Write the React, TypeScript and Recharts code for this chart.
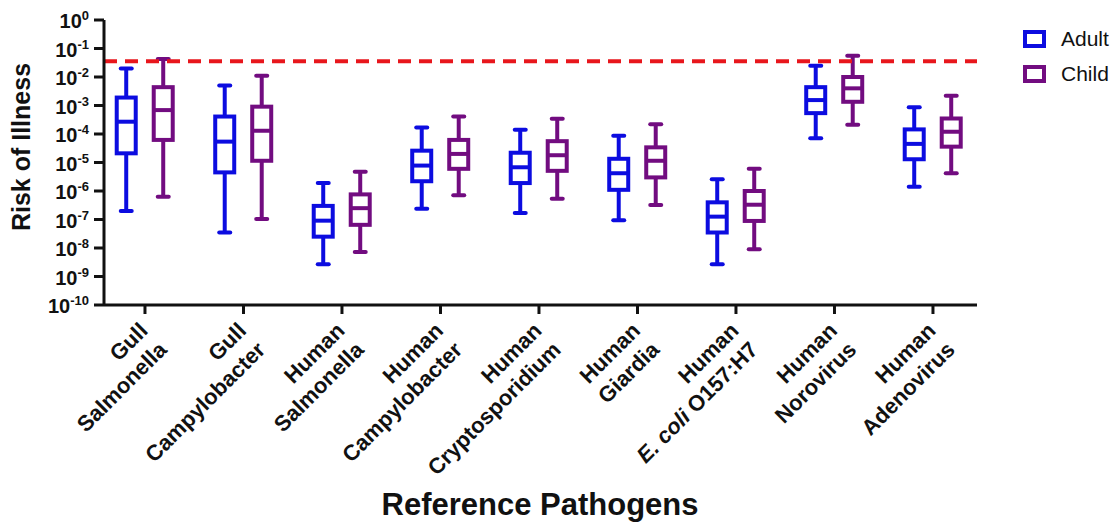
import { ComposedChart, Bar, XAxis, YAxis, ReferenceLine, Legend, Label } from 'recharts';

const FONT = '"Liberation Sans", Arial, Helvetica, sans-serif';
const ADULT_COLOR = '#0c0ce0';
const CHILD_COLOR = '#720c80';
const THRESHOLD = 0.036;

// x categories (two lines per label)
const HOSTS = ['Gull', 'Gull', 'Human', 'Human', 'Human', 'Human', 'Human', 'Human', 'Human'];
const PATHOGENS = [
  'Salmonella',
  'Campylobacter',
  'Salmonella',
  'Campylobacter',
  'Cryptosporidium',
  'Giardia',
  'E. coli O157:H7',
  'Norovirus',
  'Adenovirus',
];

// adult risk distribution (min, q1, median, q3, max)
const ADULT_MIN = [2.0e-7, 3.5e-8, 2.7e-9, 2.4e-7, 1.7e-7, 9.5e-8, 2.7e-9, 7.1e-5, 1.4e-6];
const ADULT_Q1 = [2.1e-5, 4.5e-6, 2.5e-8, 2.2e-6, 1.9e-6, 1.1e-6, 3.5e-8, 5.4e-4, 1.3e-5];
const ADULT_MED = [2.7e-4, 5.4e-5, 9.1e-8, 7.8e-6, 6.8e-6, 4.2e-6, 1.26e-7, 1.55e-3, 4.5e-5];
const ADULT_Q3 = [1.9e-3, 4.1e-4, 3.0e-7, 2.6e-5, 2.2e-5, 1.35e-5, 4.0e-7, 4.4e-3, 1.45e-4];
const ADULT_MAX = [2.0e-2, 5.0e-3, 1.9e-6, 1.7e-4, 1.4e-4, 8.7e-5, 2.6e-6, 2.5e-2, 8.7e-4];

// child risk distribution
const CHILD_MIN = [6.3e-7, 1.05e-7, 7.2e-9, 7.1e-7, 5.4e-7, 3.2e-7, 9.1e-9, 2.1e-4, 4.2e-6];
const CHILD_Q1 = [6.2e-5, 1.15e-5, 6.5e-8, 6.0e-6, 5.1e-6, 3.0e-6, 8.9e-8, 1.35e-3, 3.6e-5];
const CHILD_MED = [6.9e-4, 1.3e-4, 2.5e-7, 2.0e-5, 1.8e-5, 1.15e-5, 3.3e-7, 4.0e-3, 1.2e-4];
const CHILD_Q3 = [4.4e-3, 9.1e-4, 7.6e-7, 6.2e-5, 5.6e-5, 3.4e-5, 1.0e-6, 1.0e-2, 3.5e-4];
const CHILD_MAX = [4.3e-2, 1.1e-2, 4.7e-6, 4.1e-4, 3.4e-4, 2.2e-4, 6.0e-6, 5.6e-2, 2.2e-3];

const Y_TICKS = [1, 1e-1, 1e-2, 1e-3, 1e-4, 1e-5, 1e-6, 1e-7, 1e-8, 1e-9, 1e-10];
const X_TICKS = HOSTS.map((_, i) => i + 1);

const data = HOSTS.map((host, i) => ({
  pos: i + 1,
  host,
  adult: [ADULT_MIN[i], ADULT_MAX[i]],
  child: [CHILD_MIN[i], CHILD_MAX[i]],
}));

function makeBox(color: string, mins: number[], q1s: number[], meds: number[], q3s: number[], maxs: number[]) {
  return (props: any) => {
    const { x, y, width, height, index } = props;
    const top = Math.min(y, y + height);
    const bot = Math.max(y, y + height);
    const lmax = Math.log10(maxs[index]);
    const lmin = Math.log10(mins[index]);
    const toY = (v: number) => top + ((lmax - Math.log10(v)) / (lmax - lmin)) * (bot - top);
    const cx = x + width / 2;
    const half = width / 2 - 2;
    const yq3 = toY(q3s[index]);
    const yq1 = toY(q1s[index]);
    const ym = toY(meds[index]);
    return (
      <g>
        <line x1={cx} x2={cx} y1={top} y2={bot} stroke={color} strokeWidth={4} />
        <line x1={cx - 5.5} x2={cx + 5.5} y1={top} y2={top} stroke={color} strokeWidth={4} strokeLinecap="round" />
        <line x1={cx - 5.5} x2={cx + 5.5} y1={bot} y2={bot} stroke={color} strokeWidth={4} strokeLinecap="round" />
        <rect x={cx - half} y={yq3} width={half * 2} height={yq1 - yq3} fill="#fff" stroke={color} strokeWidth={4} />
        <line x1={cx - half} x2={cx + half} y1={ym} y2={ym} stroke={color} strokeWidth={4} />
      </g>
    );
  };
}

const AdultBox = makeBox(ADULT_COLOR, ADULT_MIN, ADULT_Q1, ADULT_MED, ADULT_Q3, ADULT_MAX);
const ChildBox = makeBox(CHILD_COLOR, CHILD_MIN, CHILD_Q1, CHILD_MED, CHILD_Q3, CHILD_MAX);

const YTick = (props: any) => {
  const { x, y, payload } = props;
  const exp = Math.round(Math.log10(payload.value));
  return (
    <text x={x - 3} y={y + 8} textAnchor="end" fontFamily={FONT} fontWeight="bold" fontSize={20} fill="#111">
      10
      <tspan dy={-8} fontSize={13}>
        {exp}
      </tspan>
    </text>
  );
};

const XTick = (props: any) => {
  const { x, y, payload } = props;
  const i = Math.round(payload.value) - 1;
  const path = PATHOGENS[i];
  const second = path.startsWith('E. coli') ? (
    <tspan x={0} dy={27}>
      <tspan fontStyle="italic">E. coli</tspan>
      {path.slice(7)}
    </tspan>
  ) : (
    <tspan x={0} dy={27}>
      {path}
    </tspan>
  );
  return (
    <g transform={`translate(${x + 4},${y + 16})`}>
      <text transform="rotate(-45)" textAnchor="end" fontFamily={FONT} fontWeight="bold" fontSize={22} fill="#111">
        <tspan x={0} dy={0}>
          {HOSTS[i]}
        </tspan>
        {second}
      </text>
    </g>
  );
};

const YTitle = () => (
  <text
    x={30}
    y={147}
    transform="rotate(-90, 30, 147)"
    textAnchor="middle"
    fontFamily={FONT}
    fontWeight="bold"
    fontSize={25}
    fill="#111"
  >
    Risk of Illness
  </text>
);

const XTitle = () => (
  <text x={540} y={515} textAnchor="middle" fontFamily={FONT} fontWeight="bold" fontSize={31} fill="#111">
    Reference Pathogens
  </text>
);

const SERIES = [
  { name: 'Adult', color: ADULT_COLOR },
  { name: 'Child', color: CHILD_COLOR },
];

const renderLegend = () => (
  <div style={{ fontFamily: FONT, fontSize: 21, color: '#111' }}>
    {SERIES.map((s) => (
      <div key={s.name} style={{ display: 'flex', alignItems: 'center', height: 35 }}>
        <span
          style={{
            display: 'inline-block',
            width: 15,
            height: 10,
            border: `4px solid ${s.color}`,
            marginRight: 15,
          }}
        />
        <span>{s.name}</span>
      </div>
    ))}
  </div>
);

export default function App() {
  return (
    <div style={{ position: 'absolute', left: 0, top: 0, background: '#fff' }}>
      <ComposedChart width={1117} height={527} data={data} margin={{ top: 20, right: 140, bottom: 0, left: 0 }} barGap={14}>
        <XAxis
          type="number"
          dataKey="pos"
          domain={[0.584, 9.447]}
          allowDataOverflow
          ticks={X_TICKS}
          interval={0}
          height={222}
          tickSize={9}
          axisLine={{ stroke: '#111', strokeWidth: 3 }}
          tickLine={{ stroke: '#111', strokeWidth: 3 }}
          tick={<XTick />}
        >
          <Label content={<XTitle />} />
        </XAxis>
        <YAxis
          type="number"
          scale="log"
          domain={[1e-10, 1]}
          allowDataOverflow
          ticks={Y_TICKS}
          interval={0}
          width={104}
          tickSize={10}
          axisLine={{ stroke: '#111', strokeWidth: 3 }}
          tickLine={{ stroke: '#111', strokeWidth: 3 }}
          tick={<YTick />}
        >
          <Label content={<YTitle />} />
        </YAxis>
        <ReferenceLine y={THRESHOLD} stroke="#e8161c" strokeWidth={4} strokeDasharray="13 8" />
        <Bar dataKey="adult" name="Adult" barSize={23} shape={AdultBox} isAnimationActive={false} />
        <Bar dataKey="child" name="Child" barSize={23} shape={ChildBox} isAnimationActive={false} />
        <Legend
          layout="vertical"
          align="center"
          verticalAlign="middle"
          content={renderLegend}
          wrapperStyle={{ position: 'absolute', left: 1023, top: 21, width: 'auto' }}
        />
      </ComposedChart>
    </div>
  );
}
